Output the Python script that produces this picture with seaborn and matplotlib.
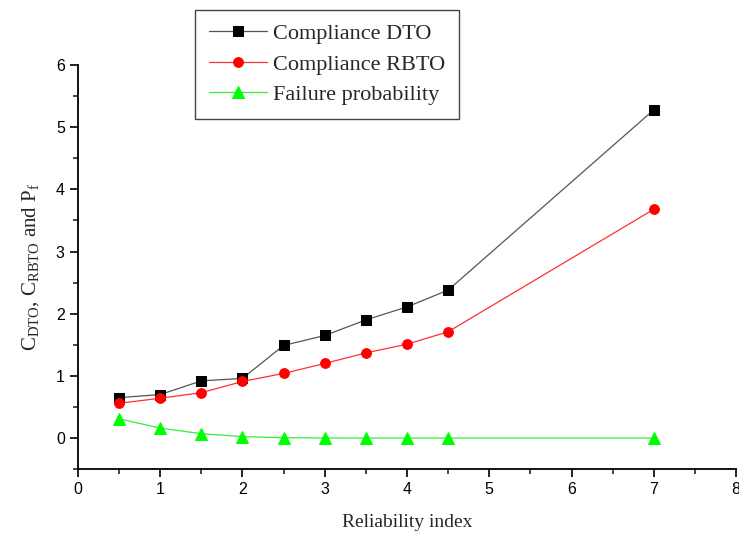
import pandas as pd
import matplotlib
matplotlib.use("Agg")
import matplotlib.pyplot as plt
from matplotlib.ticker import MultipleLocator
import seaborn as sns

reliability = [0.5, 1.0, 1.5, 2.0, 2.5, 3.0, 3.5, 4.0, 4.5, 7.0]
compliance_dto = [0.65, 0.70, 0.92, 0.96, 1.49, 1.65, 1.90, 2.11, 2.38, 5.28]
compliance_rbto = [0.56, 0.64, 0.73, 0.91, 1.04, 1.20, 1.37, 1.51, 1.71, 3.68]
failure_prob = [0.31, 0.16, 0.07, 0.023, 0.006, 0.001, 0.0, 0.0, 0.0, 0.0]

series_names = ["Compliance DTO", "Compliance RBTO", "Failure probability"]

df = pd.DataFrame({
    "beta": reliability * 3,
    "value": compliance_dto + compliance_rbto + failure_prob,
    "series": [s for s in series_names for _ in reliability],
})

sns.set_theme(style="ticks")
plt.rcParams["font.family"] = ["Liberation Sans", "DejaVu Sans"]

fig = plt.figure(figsize=(7.39, 5.38), dpi=100)
ax = fig.add_axes([0.1055, 0.128, 0.8905, 0.751])

line_colors = {"Compliance DTO": "#555555", "Compliance RBTO": "#ff3030", "Failure probability": "#33ee33"}
marker_colors = {"Compliance DTO": "black", "Compliance RBTO": "#ff0000", "Failure probability": "#00ff00"}
markers = {"Compliance DTO": "s", "Compliance RBTO": "o", "Failure probability": "^"}
msizes = {"Compliance DTO": 7, "Compliance RBTO": 7, "Failure probability": 8.5}

for name in series_names:
    sub = df[df["series"] == name]
    sns.lineplot(data=sub, x="beta", y="value", ax=ax, color=line_colors[name],
                 linewidth=0.9, marker=markers[name], markersize=msizes[name],
                 markerfacecolor=marker_colors[name], markeredgecolor=marker_colors[name],
                 label=name, clip_on=False)

ax.set_xlim(0, 8)
ax.set_ylim(-0.5, 6)
ax.xaxis.set_major_locator(MultipleLocator(1))
ax.xaxis.set_minor_locator(MultipleLocator(0.5))
ax.yaxis.set_major_locator(MultipleLocator(1))
ax.yaxis.set_minor_locator(MultipleLocator(0.5))
ax.tick_params(which="major", direction="out", length=6, width=1.2, labelsize=11.5, colors="black")
ax.tick_params(which="minor", direction="out", length=3.5, width=1.2)
sns.despine(ax=ax)
for sp in ["left", "bottom"]:
    ax.spines[sp].set_linewidth(1.3)
    ax.spines[sp].set_color("black")

ax.set_xlabel("Reliability index", fontsize=14, family=["Liberation Serif"], labelpad=12)
ax.set_ylabel(r"C$_{\mathregular{DTO}}$, C$_{\mathregular{RBTO}}$ and P$_{\mathregular{f}}$",
              fontsize=15, family=["Liberation Serif"], labelpad=10)

handles, labels = ax.get_legend_handles_labels()
ax.get_legend().remove()
leg = fig.legend(handles, labels, loc="upper left", bbox_to_anchor=(0.264, 0.982),
                 frameon=True, fancybox=False, edgecolor="#444444", framealpha=1,
                 prop={"family": "Liberation Serif", "size": 16},
                 handlelength=2.6, handletextpad=0.3, labelspacing=0.45,
                 borderpad=0.62, borderaxespad=0)
leg.get_frame().set_linewidth(1.0)

fig.savefig("out.png", dpi=100)
